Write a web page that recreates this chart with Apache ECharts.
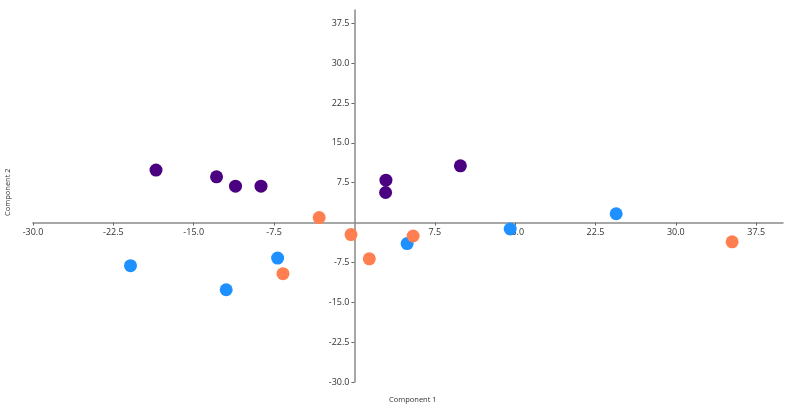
<!DOCTYPE html>
<html>
<head>
<meta charset="utf-8">
<script src="https://cdn.jsdelivr.net/npm/echarts@6/dist/echarts.min.js"></script>
<style>html,body{margin:0;padding:0;background:#fff;}#c{width:790px;height:411px;}</style>
</head>
<body>
<div id="c"></div>
<script>
var tickValues = [-30, -22.5, -15, -7.5, 7.5, 15, 22.5, 30, 37.5];
var groupA = [[-18.52, 9.87], [-12.87, 8.6], [-11.1, 6.85], [-8.72, 6.85], [2.94, 7.98], [2.91, 5.66], [9.89, 10.68]];
var groupB = [[-20.9, -8.11], [-11.97, -12.64], [-7.17, -6.68], [4.92, -3.96], [14.54, -1.21], [24.43, 1.66]];
var groupC = [[-3.29, 0.94], [-0.32, -2.26], [1.39, -6.83], [5.48, -2.53], [-6.67, -9.62], [35.25, -3.62]];
var xName = 'Component 1';
var yName = 'Component 2';
var axisMin = -30, axisMax = 40;

var W = 790, H = 411;
var G = { left: 33, right: 7, top: 10, bottom: 29 };
var gw = W - G.left - G.right, gh = H - G.top - G.bottom;
// shift axes so they cross at zero
var xOffset = -(gh * (0 - axisMin) / (axisMax - axisMin));
var yOffset = -(gw * (0 - axisMin) / (axisMax - axisMin));

var font = '"Open Sans", "Noto Sans", sans-serif';
function fmt(v){ return v.toFixed(1); }
var chart = echarts.init(document.getElementById('c'));
function axis(pos, off){
  return {
    type: 'value', min: axisMin, max: axisMax, interval: 7.5, position: pos, offset: off,
    axisLine: { onZero: false, lineStyle: { color: '#8a8a8a', width: 1.5 } },
    axisTick: { show: true, length: 3, customValues: tickValues, lineStyle: { color: '#666' } },
    axisLabel: { customValues: tickValues, formatter: fmt, color: '#333', fontSize: 9, fontFamily: font, margin: 5 },
    splitLine: { show: false }
  };
}
chart.setOption({
  animation: false,
  grid: { left: G.left, right: G.right, top: G.top, bottom: G.bottom, containLabel: false },
  xAxis: axis('bottom', xOffset),
  yAxis: axis('left', yOffset),
  graphic: [
    { type: 'text', left: 389, top: 396, style: { text: xName, fontSize: 7.5, fontFamily: font, fill: '#333' } },
    { type: 'text', rotation: Math.PI / 2, x: 4, y: 216, style: { text: yName, fontSize: 7.5, fontFamily: font, fill: '#333' } }
  ],
  series: [
    { type: 'scatter', data: groupA, symbolSize: 13, itemStyle: { color: '#4B0082', opacity: 1 } },
    { type: 'scatter', data: groupB, symbolSize: 13, itemStyle: { color: '#1E90FF', opacity: 1 } },
    { type: 'scatter', data: groupC, symbolSize: 13, itemStyle: { color: '#FF7F50', opacity: 1 } }
  ]
});
</script>
</body>
</html>
